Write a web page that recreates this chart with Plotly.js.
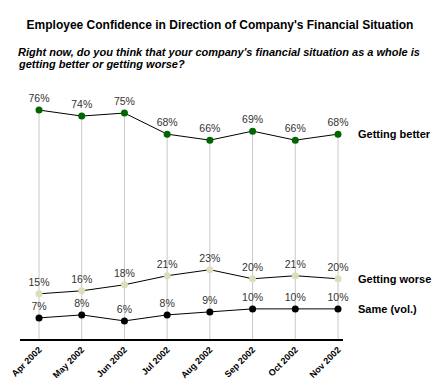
<!DOCTYPE html>
<html>
<head>
<meta charset="utf-8">
<script src="https://cdn.plot.ly/plotly-3.0.1.min.js"></script>
<style>html,body{margin:0;padding:0;background:#fff}#chart{width:440px;height:380px}</style>
</head>
<body>
<div id="chart"></div>
<script>
const months = ["Apr 2002","May 2002","Jun 2002","Jul 2002","Aug 2002","Sep 2002","Oct 2002","Nov 2002"];
const better = [76,74,75,68,66,69,66,68];
const worse = [15,16,18,21,23,20,21,20];
const same = [7,8,6,8,9,10,10,10];
const seriesNames = ["Getting better","Getting worse","Same (vol.)"];
const subtitleLines = ["Right now, do you think that your company's financial situation as a whole is",
                       "getting better or getting worse?"];

const FONT = "Liberation Sans, Arial, sans-serif";
const pct = a => a.map(v => v + "%");

function tr(y, color, extra) {
  return Object.assign({
    x: months, y: y, type: "scatter", mode: "lines+markers+text",
    text: pct(y), textposition: "top center",
    textfont: {family: FONT, size: 10.5, color: "#333"},
    line: {color: "#000", width: 1},
    marker: {color: color, size: 7},
    hoverinfo: "none", cliponaxis: false
  }, extra || {});
}

const data = [
  tr(better, "#006600", {
    error_y: {type: "data", symmetric: false, array: better.map(() => 0), arrayminus: better,
              color: "#c8c8c8", thickness: 1, width: 0}
  }),
  tr(worse, "#deddb9"),
  tr(same, "#000")
];

const last = months.length - 1;
const annotations = [better, worse, same].map((s, i) => ({
  xref: "x", yref: "y", x: months[last], y: s[last], xanchor: "left", yanchor: "middle",
  xshift: 18, showarrow: false, text: "<b>" + seriesNames[i] + "</b>",
  font: {family: FONT, size: 11, color: "#000"}
}));
subtitleLines.forEach((t, i) => annotations.push({
  xref: "paper", yref: "paper", x: -0.013, y: 1, yshift: 46 - i * 12, xanchor: "left", yanchor: "middle",
  align: "left", showarrow: false,
  text: "<b><i>" + t + "</i></b>",
  font: {family: FONT, size: 11, color: "#000"}
}));

const layout = {
  width: 440, height: 380,
  margin: {l: 20, r: 97, t: 98, b: 41},
  paper_bgcolor: "#fff", plot_bgcolor: "#fff",
  showlegend: false,
  title: {text: "<b>Employee Confidence in Direction of Company's Financial Situation</b>",
          x: 0.5, xanchor: "center", y: 0.934, yanchor: "middle", yref: "container",
          font: {family: FONT, size: 12, color: "#000"}},
  xaxis: {type: "category", range: [-0.445, 7.117], showline: true, linecolor: "#000", linewidth: 2,
          showgrid: false, zeroline: false, ticks: "", tickangle: -45,
          tickfont: {family: FONT, size: 9, color: "#000", weight: "bold"}, fixedrange: true},
  yaxis: {range: [0, 80], visible: false, showgrid: false, zeroline: false, fixedrange: true},
  annotations: annotations
};

Plotly.newPlot("chart", data, layout, {displayModeBar: false, staticPlot: true});
</script>
</body>
</html>
